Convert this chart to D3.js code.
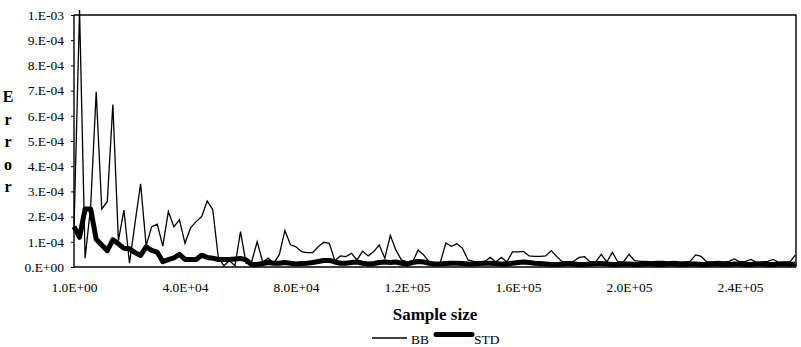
<!DOCTYPE html>
<html>
<head>
<meta charset="utf-8">
<script src="https://cdn.jsdelivr.net/npm/d3@7"></script>
<style>
  body { margin: 0; background: #fff; }
  svg text { font-family: "Liberation Serif", "Times New Roman", serif; fill: #000; }
</style>
</head>
<body>
<svg width="801" height="347"></svg>
<script>
// values are read in units of 1E-04, one point every 2000 samples (first one is 1)
var bb = [1.5, 10.2, 0.35, 2.4, 6.95, 2.3, 2.6, 6.45, 1.05, 2.26,
          0.15, 1.75, 3.3, 0.85, 1.6, 1.7, 0.83, 2.2, 1.6, 1.87,
          0.94, 1.55, 1.8, 2.0, 2.62, 2.28, 0.38, 0.05, 0.25, 0.05,
          1.4, 0.15, 0.2, 1.0, 0.2, 0.35, 0.15, 0.5, 1.45, 0.88,
          0.8, 0.61, 0.57, 0.57, 0.8, 0.98, 0.94, 0.25, 0.44, 0.41,
          0.54, 0.28, 0.63, 0.44, 0.61, 0.87, 0.35, 1.25, 0.67, 0.28,
          0.2, 0.2, 0.67, 0.48, 0.2, 0.15, 0.18, 0.95, 0.82, 0.92,
          0.74, 0.28, 0.22, 0.2, 0.22, 0.38, 0.2, 0.38, 0.2, 0.6,
          0.6, 0.62, 0.44, 0.42, 0.42, 0.44, 0.65, 0.41, 0.2, 0.2,
          0.22, 0.38, 0.41, 0.2, 0.2, 0.5, 0.2, 0.58, 0.2, 0.2,
          0.5, 0.25, 0.22, 0.22, 0.2, 0.22, 0.22, 0.2, 0.22, 0.2,
          0.2, 0.22, 0.48, 0.42, 0.2, 0.2, 0.22, 0.2, 0.22, 0.32,
          0.2, 0.22, 0.3, 0.18, 0.2, 0.22, 0.3, 0.18, 0.2, 0.2,
          0.48]
var std = [1.6, 1.18, 2.3, 2.3, 1.1, 0.87, 0.65, 1.08, 0.92, 0.74,
           0.72, 0.57, 0.46, 0.8, 0.66, 0.59, 0.21, 0.29, 0.36, 0.5,
           0.3, 0.3, 0.3, 0.47, 0.38, 0.35, 0.3, 0.3, 0.3, 0.32,
           0.34, 0.28, 0.1, 0.1, 0.14, 0.18, 0.15, 0.15, 0.18, 0.15,
           0.12, 0.14, 0.15, 0.18, 0.22, 0.26, 0.26, 0.2, 0.15, 0.15,
           0.18, 0.2, 0.15, 0.12, 0.14, 0.18, 0.2, 0.18, 0.2, 0.15,
           0.12, 0.18, 0.22, 0.2, 0.15, 0.12, 0.12, 0.14, 0.15, 0.15,
           0.14, 0.12, 0.12, 0.14, 0.15, 0.15, 0.14, 0.12, 0.12, 0.15,
           0.18, 0.2, 0.18, 0.15, 0.14, 0.12, 0.1, 0.1, 0.12, 0.14,
           0.12, 0.1, 0.1, 0.12, 0.14, 0.14, 0.12, 0.1, 0.1, 0.12,
           0.12, 0.1, 0.1, 0.12, 0.12, 0.1, 0.1, 0.12, 0.12, 0.1,
           0.1, 0.12, 0.12, 0.1, 0.1, 0.12, 0.12, 0.1, 0.1, 0.12,
           0.12, 0.1, 0.1, 0.12, 0.12, 0.1, 0.1, 0.12, 0.12, 0.1,
           0.12]
var xTickIndex  = [0, 20, 40, 60, 80, 100, 120]
var xTickLabels = ['1.0E+00', '4.0E+04', '8.0E+04', '1.2E+05', '1.6E+05', '2.0E+05', '2.4E+05']
var yTicks      = [0, 1e-4, 2e-4, 3e-4, 4e-4, 5e-4, 6e-4, 7e-4, 8e-4, 9e-4, 1e-3]
var yTickLabels = ['0.E+00', '1.E-04', '2.E-04', '3.E-04', '4.E-04', '5.E-04',
                   '6.E-04', '7.E-04', '8.E-04', '9.E-04', '1.E-03']
var unit = 1e-4

var plot = { left: 74, top: 15, right: 796, bottom: 267 }
var svg = d3.select('svg')

var x = d3.scaleLinear().domain([0, bb.length - 1]).range([plot.left, plot.right - 0.5])
var y = d3.scaleLinear().domain([0, 1e-3]).range([plot.bottom, plot.top])

// frame: top and right borders
svg.append('path')
  .attr('d', 'M' + plot.left + ',' + plot.top + 'H' + plot.right + 'V' + plot.bottom)
  .attr('fill', 'none').attr('stroke', '#000').attr('stroke-width', 1.4)

// y axis
var yAxis = d3.axisLeft(y).tickValues(yTicks).tickSize(3).tickPadding(7)
  .tickFormat(function(d, i) { return yTickLabels[i] })
var gy = svg.append('g').attr('transform', 'translate(' + plot.left + ',0)').call(yAxis)
gy.select('.domain').attr('stroke-width', 1.4).attr('d', 'M0,' + plot.top + 'V' + plot.bottom)
gy.selectAll('text').style('font-size', '13.5px').style('font-family', '"Liberation Serif", serif').attr('fill', '#000')

// x axis (labels only, no tick marks)
var xAxis = d3.axisBottom(x).tickValues(xTickIndex).tickSize(0).tickPadding(15)
  .tickFormat(function(d, i) { return xTickLabels[i] })
var gx = svg.append('g').attr('transform', 'translate(0,' + plot.bottom + ')').call(xAxis)
gx.select('.domain').attr('stroke-width', 1.6).attr('d', 'M' + plot.left + ',0H' + plot.right)
gx.selectAll('text').style('font-size', '13.5px').style('font-family', '"Liberation Serif", serif').attr('fill', '#000')

var line = d3.line()
  .x(function(d, i) { return x(i) })
  .y(function(d) { return y(d * unit) })

svg.append('path').datum(std)
  .attr('d', line).attr('fill', 'none').attr('stroke', '#000')
  .attr('stroke-width', 5).attr('stroke-linejoin', 'round')

svg.append('path').datum(bb)
  .attr('d', line).attr('fill', 'none').attr('stroke', '#000')
  .attr('stroke-width', 1.3).attr('stroke-linejoin', 'miter')

// axis titles
svg.append('text').attr('x', 435).attr('y', 320).attr('text-anchor', 'middle')
  .style('font-size', '17px').style('font-weight', 'bold').text('Sample size')

var title = svg.append('text').attr('x', 8).attr('y', 102).attr('text-anchor', 'middle')
  .style('font-size', '16px').style('font-weight', 'bold')
'Error'.split('').forEach(function(ch, i) {
  title.append('tspan').attr('x', 8).attr('dy', i ? 22.5 : 0).text(ch)
})

// legend
var legend = [
  { name: 'BB',  width: 1.3, x0: 372, x1: 407, ly: 338, tx: 411 },
  { name: 'STD', width: 5,   x0: 436, x1: 472, ly: 334.5, tx: 474 }
]
legend.forEach(function(l) {
  svg.append('line').attr('x1', l.x0).attr('x2', l.x1).attr('y1', l.ly).attr('y2', l.ly)
    .attr('stroke', '#000').attr('stroke-width', l.width).attr('stroke-linecap', l.width > 2 ? 'round' : 'butt')
  svg.append('text').attr('x', l.tx).attr('y', 344).style('font-size', '13.5px').text(l.name)
})
</script>
</body>
</html>
